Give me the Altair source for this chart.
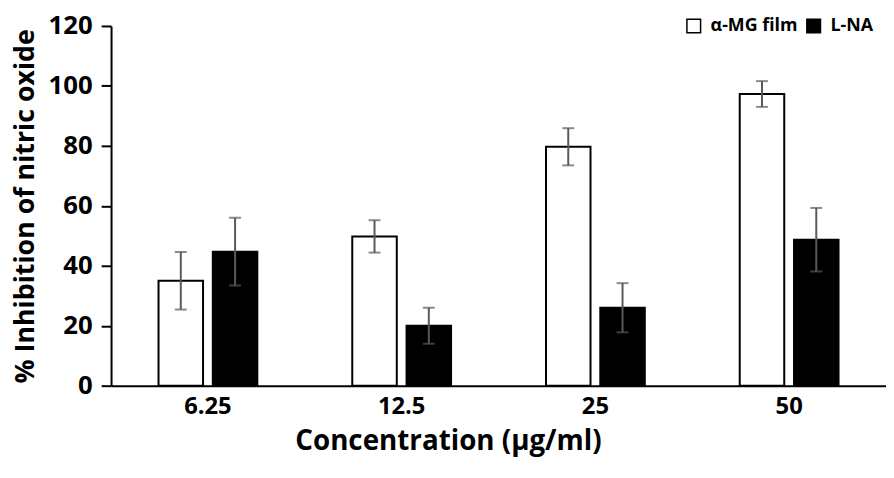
import altair as alt
import pandas as pd

conc = ["6.25", "12.5", "25", "50"]
groups = ["α-MG film", "L-NA"]
amg = [35.0, 49.8, 79.7, 97.3]
amg_err = [9.6, 5.4, 6.2, 4.3]
lna = [44.7, 20.0, 26.0, 48.7]
lna_err = [11.3, 6.0, 8.2, 10.6]

rows = []
for c, v, e in zip(conc, amg, amg_err):
    rows.append({"conc": c, "group": groups[0], "value": v, "lo": v - e, "hi": v + e})
for c, v, e in zip(conc, lna, lna_err):
    rows.append({"conc": c, "group": groups[1], "value": v, "lo": v - e, "hi": v + e})
df = pd.DataFrame(rows)

FONT = "Open Sans"

x_enc = alt.X("conc:N", sort=conc,
              scale=alt.Scale(paddingInner=0.49, paddingOuter=0.245),
              axis=alt.Axis(title="Concentration (µg/ml)", labelAngle=0, ticks=False,
                            labelPadding=9, labelFontSize=24, titleFontSize=28,
                            titlePadding=9, titleX=340, titleAnchor="middle",
                            domainColor="black", domainWidth=2,
                            labelColor="black", titleColor="black"))
xo = alt.XOffset("group:N", sort=groups, scale=alt.Scale(paddingInner=0.18, paddingOuter=0))

bars = alt.Chart(df).mark_bar(stroke="black", strokeWidth=2).encode(
    x=x_enc,
    xOffset=xo,
    y=alt.Y("value:Q", scale=alt.Scale(domain=[0, 120]),
            axis=alt.Axis(title="% Inhibition of nitric oxide", values=[0, 20, 40, 60, 80, 100, 120],
                          grid=False, tickSize=10, tickColor="black", tickWidth=2,
                          domainColor="black", domainWidth=2, labelFontSize=26,
                          labelPadding=9, titleFontSize=27, titleX=-72,
                          labelColor="black", titleColor="black")),
    color=alt.Color("group:N", sort=groups,
                    scale=alt.Scale(domain=groups, range=["white", "black"]),
                    legend=alt.Legend(title=None, orient="none", legendX=579, legendY=-9,
                                      direction="horizontal", symbolType="square",
                                      symbolSize=190, symbolStrokeColor="black",
                                      symbolStrokeWidth=1.5, labelFontSize=18,
                                      labelFontWeight="bold", labelFont=FONT,
                                      labelColor="black", columnPadding=6,
                                      labelOffset=8)),
)

rules = alt.Chart(df).mark_rule(color="#595959", strokeWidth=2).encode(
    x=alt.X("conc:N", sort=conc), xOffset=xo, y="lo:Q", y2="hi:Q")
cap_hi = alt.Chart(df).mark_tick(color="#595959", size=12, thickness=2).encode(
    x=alt.X("conc:N", sort=conc), xOffset=xo, y="hi:Q")
cap_lo = alt.Chart(df).mark_tick(color="#595959", size=12, thickness=2).encode(
    x=alt.X("conc:N", sort=conc), xOffset=xo, y="lo:Q")

chart = alt.layer(bars, rules, cap_hi, cap_lo).properties(
    width=782, height=363,
    autosize=alt.AutoSizeParams(type="none"),
    padding={"left": 104, "top": 16, "right": 0, "bottom": 88},
).configure_view(stroke=None).configure_axis(
    labelFont=FONT, titleFont=FONT, labelFontWeight="bold", titleFontWeight="bold"
)

chart.save("out.html", embed_options={"renderer": "svg", "actions": False})
